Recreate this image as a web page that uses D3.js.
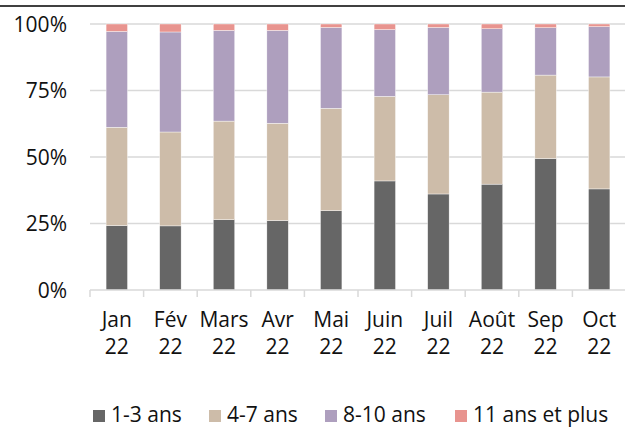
<!DOCTYPE html>
<html>
<head>
<meta charset="utf-8">
<script src="https://cdn.jsdelivr.net/npm/d3@7"></script>
<style>
  body { margin: 0; background: #fff; }
  svg text { font-family: "Open Sans", "Noto Sans", sans-serif; fill: #111; }
</style>
</head>
<body>
<script>
// month labels (two lines each)
const months = ["Jan", "Fév", "Mars", "Avr", "Mai", "Juin", "Juil", "Août", "Sep", "Oct"];
const year = "22";

// series, in % of total
const series = ["1-3 ans", "4-7 ans", "8-10 ans", "11 ans et plus"];
const ans1_3   = [24.2, 24.1, 26.4, 26.1, 29.8, 41.0, 36.1, 39.8, 49.4, 38.0];
const ans4_7   = [37.0, 35.3, 37.1, 36.6, 38.5, 31.8, 37.3, 34.6, 31.4, 42.1];
const ans8_10  = [36.0, 37.6, 34.1, 34.9, 30.4, 25.1, 25.3, 23.8, 17.8, 18.9];
const ans11    = [2.8, 3.0, 2.4, 2.4, 1.3, 2.1, 1.3, 1.8, 1.4, 1.0];

const yTicks = [0, 25, 50, 75, 100];
const colors = ["#666666", "#cdbca9", "#ae9fbe", "#e8948f"];

const W = 625, H = 427;
const margin = { left: 90, right: -1, top: 24, bottom: 137 };

const svg = d3.select("body").append("svg")
    .attr("width", W)
    .attr("height", H);

// top rule
svg.append("line")
    .attr("x1", 0).attr("x2", W)
    .attr("y1", 6).attr("y2", 6)
    .attr("stroke", "#000")
    .attr("stroke-width", 1.5);

const x = d3.scaleBand()
    .domain(months)
    .range([margin.left, W - margin.right])
    .paddingInner(0.6)
    .paddingOuter(0.3);

const y = d3.scaleLinear()
    .domain([0, 100])
    .range([H - margin.bottom, margin.top]);

// gridlines
svg.append("g")
    .selectAll("line")
    .data(yTicks.filter(d => d > 0))
    .enter().append("line")
    .attr("x1", margin.left)
    .attr("x2", W)
    .attr("y1", d => y(d))
    .attr("y2", d => y(d))
    .attr("stroke", "#d9d9d9")
    .attr("stroke-width", 1.5);

// y labels
svg.append("g")
    .selectAll("text")
    .data(yTicks)
    .enter().append("text")
    .attr("x", 67)
    .attr("y", d => y(d))
    .attr("dy", "0.36em")
    .attr("text-anchor", "end")
    .style("font-size", "21px")
    .text(d => d + "%");

// stack data
const table = months.map((m, i) => ({
    month: m,
    "1-3 ans": ans1_3[i],
    "4-7 ans": ans4_7[i],
    "8-10 ans": ans8_10[i],
    "11 ans et plus": ans11[i]
}));

const stacked = d3.stack().keys(series)(table);

svg.append("g")
    .selectAll("g")
    .data(stacked)
    .enter().append("g")
    .attr("fill", (d, i) => colors[i])
    .selectAll("rect")
    .data(d => d)
    .enter().append("rect")
    .attr("x", d => x(d.data.month))
    .attr("width", x.bandwidth())
    .attr("y", d => y(d[1]))
    .attr("height", d => y(d[0]) - y(d[1]))
    .attr("stroke", "#fff")
    .attr("stroke-width", 0.4);

// x axis line and tick marks at band boundaries
const step = x.step();
const base = y(0);
const axis = svg.append("g").attr("stroke", "#d9d9d9").attr("stroke-width", 1.5);
axis.append("line")
    .attr("x1", margin.left).attr("x2", W)
    .attr("y1", base).attr("y2", base);
axis.selectAll(".tk")
    .data(d3.range(months.length + 1))
    .enter().append("line")
    .attr("class", "tk")
    .attr("x1", i => margin.left + i * step)
    .attr("x2", i => margin.left + i * step)
    .attr("y1", base)
    .attr("y2", base + 7);

// x labels
const xl = svg.append("g")
    .selectAll("text")
    .data(months)
    .enter().append("text")
    .attr("x", d => x(d) + x.bandwidth() / 2)
    .attr("y", 327)
    .attr("text-anchor", "middle")
    .style("font-size", "21px");
xl.append("tspan").text(d => d);
xl.append("tspan")
    .attr("x", d => x(d) + x.bandwidth() / 2)
    .attr("dy", 27)
    .text(year);

// legend
const legendX = [93, 209, 325, 455];
const legend = svg.append("g")
    .selectAll("g")
    .data(series)
    .enter().append("g")
    .attr("transform", (d, i) => "translate(" + legendX[i] + ",410)");
legend.append("rect")
    .attr("width", 12)
    .attr("height", 12)
    .attr("fill", (d, i) => colors[i]);
legend.append("text")
    .attr("x", 18)
    .attr("y", 12)
    .style("font-size", "21px")
    .text(d => d);
</script>
</body>
</html>
